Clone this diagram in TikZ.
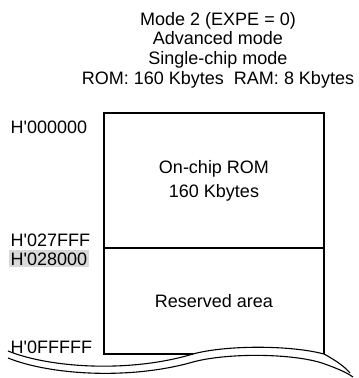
\documentclass[tikz,border=0pt]{standalone}
\usepackage{fontspec}
\setmainfont{Liberation Sans}[Ligatures=TeXOff]
\usetikzlibrary{positioning}
\definecolor{Mark}{HTML}{D9D9D9}

\begin{document}
\begin{tikzpicture}[x=1pt,y=-1pt,
    region/.style={draw,line width=2pt,outer sep=0pt,minimum width=220pt,
      align=center,font=\fontsize{18}{24}\selectfont},
    addr/.style={anchor=base west,inner xsep=1.5pt,inner ysep=2pt,
      font=\fontsize{18}{22}\selectfont},
    edge/.style={line width=2pt},
    wave/.style={line width=1.1pt}
  ]
    \useasboundingbox (0,0) rectangle (359,378);
    \node[align=center,anchor=north,inner sep=0pt,font=\fontsize{18}{19.7}\selectfont]
      (title) at (218,12)
      {Mode 2 (EXPE = 0)\\Advanced mode\\Single-chip mode\\ROM: 160 Kbytes\ \ RAM: 8 Kbytes};
    \node[region,minimum height=135pt] (rom) at (214,180.5) {On-chip ROM\\160 Kbytes};
    \node[region,draw=none,minimum height=106pt,below=0pt of rom] (res) {Reserved area};
    \node[addr] (a0) at (9,133.3) {H'000000};
    \node[addr] (a1) at (9,246.7) {H'027FFF};
    \node[addr,fill=Mark] (a2) at (9,265) {H'028000};
    \node[addr] (a3) at (9,353.3) {H'0FFFFF};
    % reserved area, open at the bottom
    \coordinate (join) at (193,354);
    \draw[edge] (res.north east) -- (res.south east);
    \draw[edge] (res.north west) -- (res.south west) -- (join);
    % break lines
    \draw[wave] (8,351) .. controls (50,368) and (130,373) .. (join)
      .. controls (226,345) and (290,345) .. (res.south east)
      .. controls (335,360) and (344,366) .. (350,373);
    \draw[wave] (8,358) .. controls (50,375) and (130,380) .. (193,362)
      .. controls (226,353) and (290,353) .. (322,363)
      .. controls (336,368) and (346,372) .. (353,377);
  \end{tikzpicture}
\end{document}
